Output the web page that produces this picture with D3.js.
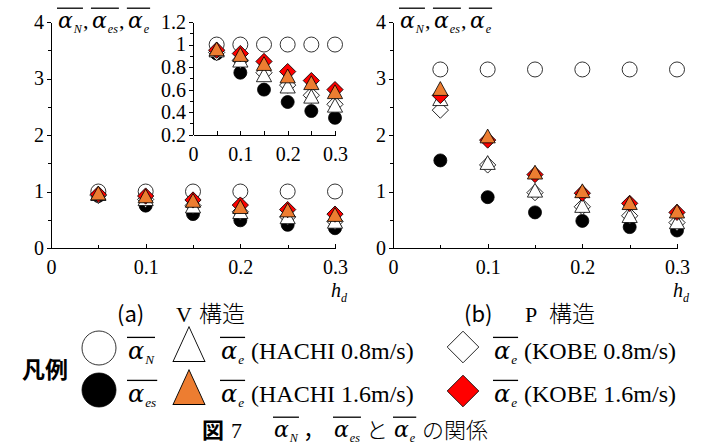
<!DOCTYPE html>
<html lang="ja">
<head>
<meta charset="UTF-8">
<title>図7</title>
<style>
    body{ margin:0; background:#fff; }
    .axis path, .axis line{ fill:none; stroke:#000; stroke-width:1; shape-rendering:crispEdges; }
    .mk{ stroke:#000; stroke-width:0.8; }
</style>
</head>
<body>
<svg width="706" height="446"></svg>
<script src="https://d3js.org/d3.v7.min.js"></script>
<script>
// h_d values
var hd = [0.05, 0.1, 0.15, 0.2, 0.25, 0.3];

// (a) V structure
var vAlphaN  = [1, 1, 1, 1, 1, 1];
var vAlphaEs = [0.92, 0.75, 0.60, 0.49, 0.41, 0.35];
var vHachi08 = [0.94, 0.85, 0.72, 0.62, 0.53, 0.45];
var vHachi16 = [0.95, 0.90, 0.82, 0.71, 0.65, 0.57];
var vKobe08  = [0.93, 0.86, 0.75, 0.64, 0.55, 0.47];
var vKobe16  = [0.95, 0.92, 0.85, 0.76, 0.68, 0.60];

// (b) P structure
var pAlphaN  = [3.16, 3.16, 3.16, 3.16, 3.16, 3.16];
var pAlphaEs = [1.55, 0.90, 0.63, 0.48, 0.37, 0.31];
var pHachi08 = [2.62, 1.49, 1.00, 0.73, 0.55, 0.44];
var pHachi16 = [2.80, 1.96, 1.32, 0.99, 0.78, 0.63];
var pKobe08  = [2.44, 1.47, 0.98, 0.73, 0.57, 0.45];
var pKobe16  = [2.70, 1.91, 1.30, 0.97, 0.79, 0.63];

var xTicks = [0, 0.1, 0.2, 0.3];
var xMinor = [0.05, 0.15, 0.25];
var yTicks = [0, 1, 2, 3, 4];
var yMinor = [0.5, 1.5, 2.5, 3.5];
var insetYTicks = [0.2, 0.4, 0.6, 0.8, 1, 1.2];
var insetYMinor = [0.3, 0.5, 0.7, 0.9, 1.1];
var insetXTicks = [0, 0.05, 0.1, 0.15, 0.2, 0.25, 0.3];

var SERIF = '"Liberation Serif", "Times New Roman", serif';
var GREEK = '"DejaVu Serif", serif';
var CJK = '"Noto Sans CJK JP", sans-serif';

var svg = d3.select("svg");

// series drawing order (bottom to top)
var series = [
    {key: "N",   shape: "circle",  fill: "#fff",    r: 7.5},
    {key: "es",  shape: "circle",  fill: "#000",    r: 6.5},
    {key: "k08", shape: "diamond", fill: "#fff"},
    {key: "h08", shape: "tri",     fill: "#fff"},
    {key: "k16", shape: "diamond", fill: "#ff0000"},
    {key: "h16", shape: "tri",     fill: "#ed7d31"}
];

function marker(g, s, cx, cy, big) {
    if (s.shape == "circle") {
        return g.append("circle").attr("class", "mk")
            .attr("cx", cx).attr("cy", cy).attr("r", big ? 17 : s.r)
            .attr("fill", s.fill);
    }
    if (s.shape == "diamond") {
        return g.append("path").attr("class", "mk")
            .attr("d", d3.symbol(d3.symbolSquare, big ? 500 : 132)())
            .attr("transform", "translate(" + cx + "," + cy + ") rotate(45)")
            .attr("fill", s.fill);
    }
    return g.append("path").attr("class", "mk")
        .attr("d", d3.symbol(d3.symbolTriangle, big ? 440 : 100)())
        .attr("transform", "translate(" + cx + "," + (cy + (big ? 3 : 1)) + ") scale(1," + (big ? 1.26 : 1.05) + ")")
        .attr("fill", s.fill);
}

function drawPoints(g, x, y, data) {
    series.forEach(function(s){
        data[s.key].forEach(function(v, i){
            marker(g, s, x(hd[i]), y(v), false);
        });
    });
}

// overlined italic alpha with subscript, returns width
function alpha(g, x, y, sub, size) {
    var a = g.append("text").attr("x", x).attr("y", y)
        .style("font-family", GREEK).style("font-size", size + "px").style("font-style", "italic")
        .text("α");
    var aw = a.node().getComputedTextLength();
    var s = g.append("text").attr("x", x + aw + 1).attr("y", y + size * 0.22)
        .style("font-family", SERIF).style("font-size", (size * 0.55) + "px").style("font-style", "italic")
        .text(sub);
    var w = aw + 1 + s.node().getComputedTextLength();
    g.append("line").attr("x1", x - 1).attr("x2", x + w + 1)
        .attr("y1", y - size * 0.9).attr("y2", y - size * 0.9)
        .attr("stroke", "#000").attr("stroke-width", 1.3);
    return w;
}

function txt(g, x, y, s, size, family, extra) {
    var t = g.append("text").attr("x", x).attr("y", y)
        .style("font-family", family).style("font-size", size + "px").text(s);
    if (extra) extra(t);
    return t;
}

function styleAxis(sel) {
    sel.selectAll("text").style("font-family", SERIF).style("font-size", "20px").attr("fill", "#000");
}

function fmt(d) { return d === 0 ? "0" : d3.format(".1f")(d); }

function panel(x0, data) {
    var x = d3.scaleLinear().domain([0, 0.3]).range([x0, x0 + 284]);
    var y = d3.scaleLinear().domain([0, 4]).range([248, 22]);
    var g = svg.append("g");

    g.append("g").attr("class", "axis").attr("transform", "translate(0,248)")
        .call(d3.axisBottom(x).tickValues(xTicks).tickFormat(fmt)
            .tickSize(-4).tickSizeOuter(0).tickPadding(12))
        .call(styleAxis);
    g.append("g").attr("class", "axis").attr("transform", "translate(0,248)")
        .call(d3.axisBottom(x).tickValues(xMinor).tickFormat("").tickSize(-3).tickSizeOuter(0));
    g.append("g").attr("class", "axis").attr("transform", "translate(" + x0 + ",0)")
        .call(d3.axisLeft(y).tickValues(yTicks).tickFormat(d3.format("d")).tickSize(4).tickSizeOuter(0).tickPadding(3))
        .call(styleAxis);
    g.append("g").attr("class", "axis").attr("transform", "translate(" + x0 + ",0)")
        .call(d3.axisLeft(y).tickValues(yMinor).tickFormat("").tickSize(3).tickSizeOuter(0));

    // y label
    var lx = x0 + 7, ly = 28;
    lx += alpha(g, lx, ly, "N", 22);
    txt(g, lx + 1, ly, ",", 22, SERIF);
    lx += 10;
    lx += alpha(g, lx, ly, "es", 22);
    txt(g, lx + 1, ly, ",", 22, SERIF);
    lx += 10;
    alpha(g, lx, ly, "e", 22);

    // x label h_d
    txt(g, x0 + 280, 297, "h", 20, SERIF, function(t){ t.style("font-style", "italic"); });
    txt(g, x0 + 290, 302, "d", 12, SERIF, function(t){ t.style("font-style", "italic"); });

    drawPoints(g, x, y, data);
}

panel(51, {N: vAlphaN, es: vAlphaEs, k08: vKobe08, h08: vHachi08, k16: vKobe16, h16: vHachi16});
panel(393, {N: pAlphaN, es: pAlphaEs, k08: pKobe08, h08: pHachi08, k16: pKobe16, h16: pHachi16});

// inset of panel (a)
(function(){
    var x = d3.scaleLinear().domain([0, 0.3]).range([193, 335]);
    var y = d3.scaleLinear().domain([0.2, 1.2]).range([134.7, 22]);
    var g = svg.append("g");
    g.append("g").attr("class", "axis").attr("transform", "translate(0,134.7)")
        .call(d3.axisBottom(x).tickValues(insetXTicks)
            .tickFormat(function(d){ return xTicks.indexOf(d) < 0 ? "" : fmt(d); })
            .tickSize(-4).tickSizeOuter(0).tickPadding(12))
        .call(styleAxis);
    g.append("g").attr("class", "axis").attr("transform", "translate(193,0)")
        .call(d3.axisLeft(y).tickValues(insetYTicks).tickFormat(function(d){ return d == 1 ? "1" : d3.format(".1f")(d); })
            .tickSize(4).tickSizeOuter(0).tickPadding(3))
        .call(styleAxis);
    g.append("g").attr("class", "axis").attr("transform", "translate(193,0)")
        .call(d3.axisLeft(y).tickValues(insetYMinor).tickFormat("").tickSize(3).tickSizeOuter(0));
    drawPoints(g, x, y, {N: vAlphaN, es: vAlphaEs, k08: vKobe08, h08: vHachi08, k16: vKobe16, h16: vHachi16});
})();

// sub captions
txt(svg, 117, 322, "(a)", 22, CJK);
txt(svg, 176, 322, "V", 22, SERIF);
txt(svg, 199, 322, "構造", 23, CJK, function(t){ t.style("font-weight", 300); });
txt(svg, 464, 322, "(b)", 22, CJK);
txt(svg, 525, 322, "P", 22, SERIF);
txt(svg, 549, 322, "構造", 23, CJK, function(t){ t.style("font-weight", 300); });

// legend
var leg = svg.append("g");
txt(leg, 22, 378, "凡例", 23, CJK, function(t){ t.style("font-weight", "bold"); });
var legItems = [
    {s: series[0], cx: 99,  cy: 348, lx: 128, row: 0, sub: "N",  text: ""},
    {s: series[1], cx: 99,  cy: 390, lx: 128, row: 1, sub: "es", text: ""},
    {s: series[3], cx: 189, cy: 347, lx: 221, row: 0, sub: "e",  text: "(HACHI 0.8m/s)"},
    {s: series[5], cx: 189, cy: 390, lx: 221, row: 1, sub: "e",  text: "(HACHI 1.6m/s)"},
    {s: series[2], cx: 463, cy: 347, lx: 494, row: 0, sub: "e",  text: "(KOBE 0.8m/s)"},
    {s: series[4], cx: 463, cy: 391, lx: 494, row: 1, sub: "e",  text: "(KOBE 1.6m/s)"}
];
var rowBase = [359, 402];
legItems.forEach(function(d){
    marker(leg, d.s, d.cx, d.cy, true);
    alpha(leg, d.lx, rowBase[d.row], d.sub, 24);
    if (d.text) txt(leg, d.lx + 30, rowBase[d.row], d.text, 24, SERIF);
});

// figure caption
var cap = svg.append("g");
txt(cap, 202, 438, "図", 22, CJK, function(t){ t.style("font-weight", "bold"); });
txt(cap, 231, 438, "7", 22, SERIF);
alpha(cap, 274, 437, "N", 22);
txt(cap, 303, 438, "，", 22, CJK);
alpha(cap, 334, 437, "es", 22);
txt(cap, 366, 438, "と", 22, CJK, function(t){ t.style("font-weight", 300); });
alpha(cap, 394, 437, "e", 22);
txt(cap, 422, 438, "の関係", 22, CJK, function(t){ t.style("font-weight", 300); });
</script>
</body>
</html>
